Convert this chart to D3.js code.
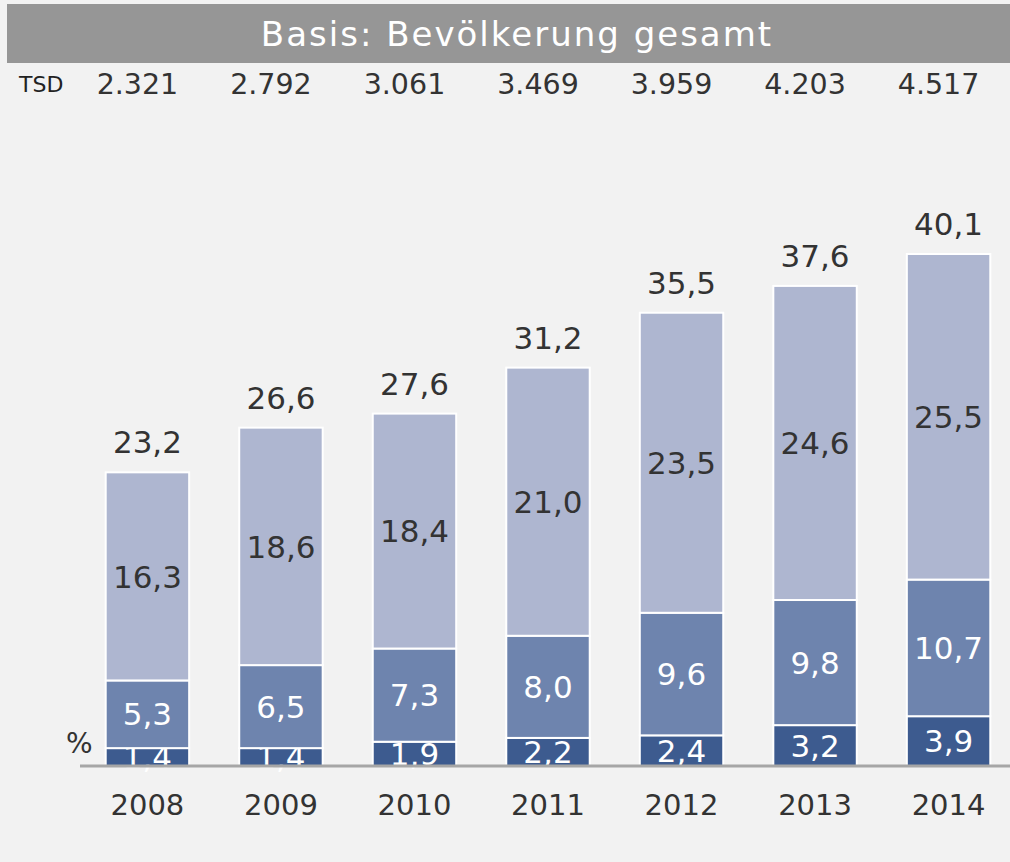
<!DOCTYPE html>
<html>
<head>
<meta charset="utf-8">
<script src="https://cdn.jsdelivr.net/npm/d3@7"></script>
<style>
  body { margin: 0; background: #f2f2f2; }
  svg { display: block; font-family: "DejaVu Sans", Verdana, sans-serif; }
</style>
</head>
<body>
<div id="chart"></div>
<script>
// Daten aus der Grafik
var years = ["2008", "2009", "2010", "2011", "2012", "2013", "2014"];
var tsd = ["2.321", "2.792", "3.061", "3.469", "3.959", "4.203", "4.517"];
var unten = [1.4, 1.4, 1.9, 2.2, 2.4, 3.2, 3.9];
var mitte = [5.3, 6.5, 7.3, 8.0, 9.6, 9.8, 10.7];
var oben = [16.3, 18.6, 18.4, 21.0, 23.5, 24.6, 25.5];
var gesamt = [23.2, 26.6, 27.6, 31.2, 35.5, 37.6, 40.1];

var width = 1010;
var height = 862;
var baseline = 766;

var colors = ["#3d5b8f", "#6e84ae", "#aeb6d0"];
var textColors = ["#ffffff", "#ffffff", "#333333"];

var fmt = function(v) { return v.toFixed(1).replace(".", ","); };

var svg = d3.select("#chart")
    .append("svg")
    .attr("width", width)
    .attr("height", height);

svg.append("rect")
    .attr("width", width).attr("height", height)
    .attr("fill", "#f2f2f2");

// Kopfzeile
svg.append("rect")
    .attr("x", 7).attr("y", 4)
    .attr("width", width - 7).attr("height", 59)
    .attr("fill", "#969696");

svg.append("text")
    .attr("x", 517).attr("y", 46)
    .attr("text-anchor", "middle")
    .attr("fill", "#ffffff")
    .style("font-size", "34px")
    .style("letter-spacing", "2px")
    .text("Basis: Bevölkerung gesamt");

//Escalas
var xscale = d3.scaleBand()
    .domain(years)
    .range([79, 1017])
    .paddingInner(0.375)
    .paddingOuter(0.2);

var yscale = d3.scaleLinear()
    .domain([0, 40.1])
    .range([baseline, 254]);

var cx = d => xscale(d) + xscale.bandwidth() / 2;

// TSD Zeile
svg.append("text")
    .attr("x", 19).attr("y", 92)
    .attr("fill", "#222")
    .style("font-size", "22px")
    .text("TSD");

svg.selectAll(".tsd")
    .data(years)
    .enter()
    .append("text")
    .attr("class", "tsd")
    .attr("x", d => cx(d) - 10)
    .attr("y", 94)
    .attr("text-anchor", "middle")
    .attr("fill", "#333")
    .style("font-size", "28.5px")
    .text((d, i) => tsd[i]);

// gestapelte Daten
var rows = years.map(function(y, i) {
    return { year: y, unten: unten[i], mitte: mitte[i], oben: oben[i] };
});
var keys = ["unten", "mitte", "oben"];
var series = d3.stack().keys(keys)(rows);

var groups = svg.selectAll(".serie")
    .data(series)
    .enter()
    .append("g")
    .attr("class", "serie");

groups.selectAll("rect")
    .data((s, si) => s.map(d => ({ d: d, si: si })))
    .enter()
    .append("rect")
    .attr("x", o => xscale(o.d.data.year))
    .attr("y", o => yscale(o.d[1]))
    .attr("width", xscale.bandwidth())
    .attr("height", o => yscale(o.d[0]) - yscale(o.d[1]))
    .attr("fill", o => colors[o.si])
    .attr("stroke", "#ffffff")
    .attr("stroke-width", 2);

// Achse
svg.append("line")
    .attr("x1", 80).attr("x2", width)
    .attr("y1", baseline).attr("y2", baseline)
    .attr("stroke", "#a6a6a6")
    .attr("stroke-width", 3);

// Beschriftungen in den Segmenten
groups.selectAll("text")
    .data((s, si) => s.map(d => ({ d: d, si: si })))
    .enter()
    .append("text")
    .attr("x", o => cx(o.d.data.year))
    .attr("y", o => (yscale(o.d[0]) + yscale(o.d[1])) / 2)
    .attr("dy", "0.36em")
    .attr("text-anchor", "middle")
    .attr("fill", o => textColors[o.si])
    .style("font-size", "31px")
    .text(o => fmt(o.d.data[keys[o.si]]));

// Summen
svg.selectAll(".summe")
    .data(years)
    .enter()
    .append("text")
    .attr("class", "summe")
    .attr("x", d => cx(d))
    .attr("y", (d, i) => yscale(d3.sum([unten[i], mitte[i], oben[i]])) - 19)
    .attr("text-anchor", "middle")
    .attr("fill", "#333")
    .style("font-size", "31px")
    .text((d, i) => fmt(gesamt[i]));

// Jahre
svg.selectAll(".jahr")
    .data(years)
    .enter()
    .append("text")
    .attr("class", "jahr")
    .attr("x", d => cx(d))
    .attr("y", 815)
    .attr("text-anchor", "middle")
    .attr("fill", "#333")
    .style("font-size", "29px")
    .text(d => d);

svg.append("text")
    .attr("x", 66).attr("y", 753)
    .attr("fill", "#333")
    .style("font-size", "28px")
    .text("%");
</script>
</body>
</html>
